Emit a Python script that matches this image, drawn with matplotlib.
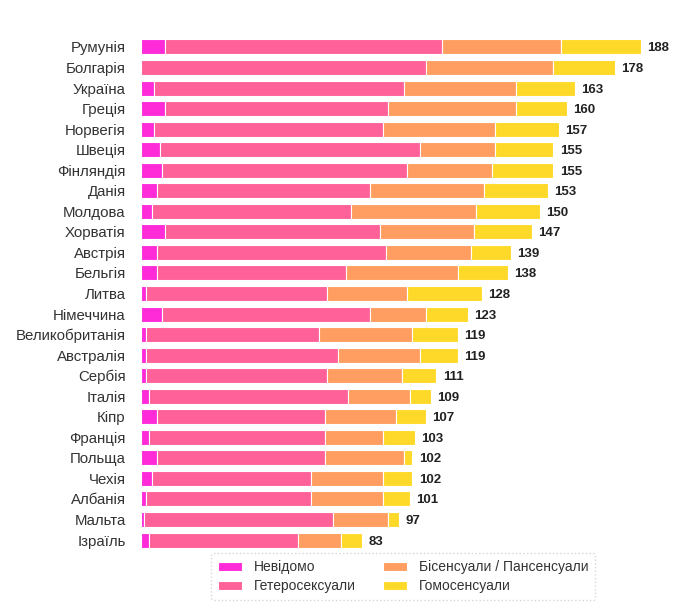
import numpy as np
import matplotlib
matplotlib.use('Agg')
import matplotlib.pyplot as plt

## ------------------------------ DATA ------------------------------ ##

krainy = ['Румунія', 'Болгарія', 'Україна', 'Греція', 'Норвегія', 'Швеція',
          'Фінляндія', 'Данія', 'Молдова', 'Хорватія', 'Австрія', 'Бельгія',
          'Литва', 'Німеччина', 'Великобританія', 'Австралія', 'Сербія',
          'Італія', 'Кіпр', 'Франція', 'Польща', 'Чехія', 'Албанія',
          'Мальта', 'Ізраїль']

nevidomo = [9, 0, 5, 9, 5, 7, 8, 6, 4, 9, 6, 6, 2, 8, 2, 2, 2, 3, 6, 3, 6, 4, 2, 1, 3]
hetero   = [104, 107, 94, 84, 86, 98, 92, 80, 75, 81, 86, 71, 68, 78, 65, 72, 68, 75, 63, 66, 63, 60, 62, 71, 56]
bi_pan   = [45, 48, 42, 48, 42, 28, 32, 43, 47, 35, 32, 42, 30, 21, 35, 31, 28, 23, 27, 22, 30, 27, 27, 21, 16]
homo     = [30, 23, 22, 19, 24, 22, 23, 24, 24, 22, 15, 19, 28, 16, 17, 14, 13, 8, 11, 12, 3, 11, 10, 4, 8]

nazvy = ['Невідомо', 'Гетеросексуали', 'Бісенсуали / Пансенсуали', 'Гомосенсуали']
kolory = ['#FF2BD9', '#FF6198', '#FF9E60', '#FFD929']

## ------------------------------ PLOT ------------------------------ ##

plt.rcParams['font.family'] = ['Liberation Sans', 'DejaVu Sans']

fig = plt.figure(figsize=[6.8, 6.04], dpi=100)
ax = fig.add_axes([141/680., 0.0889, 519/680., 0.8503])

y = np.arange(len(krainy))
seriyi = [nevidomo, hetero, bi_pan, homo]
liv = np.zeros(len(krainy))
for vals, naz, kol in zip(seriyi, nazvy, kolory):
    vals = np.array(vals, dtype=float)
    ax.barh(y, vals, left=liv, height=0.73, color=kol, label=naz,
            edgecolor='white', linewidth=0.8)
    liv = liv + vals

for yi, tot in zip(y, liv):
    ax.text(tot + 2.4, yi, '%d' % tot, va='center_baseline', ha='left',
            fontsize=9.5, fontweight='bold', color='#222222')

ax.set_yticks(y)
ax.set_yticklabels(krainy, fontsize=10.8, color='#333333')
for t in ax.get_yticklabels():
    t.set_verticalalignment('center_baseline')
ax.tick_params(axis='y', length=0, pad=11)
ax.set_xticks([])
ax.set_xlim(0, 195.1)
ax.set_ylim(len(krainy) - 0.5, -0.5)
for s in ax.spines.values():
    s.set_visible(False)

leg = fig.legend(loc='center', bbox_to_anchor=(0.593, 0.045), ncol=2,
                 fontsize=10, frameon=True, handlelength=1.7, handleheight=0.6,
                 handletextpad=0.85, columnspacing=2.0, labelspacing=0.35,
                 borderpad=0.5)
leg.get_frame().set_edgecolor('#cccccc')
leg.get_frame().set_linestyle(':')
for t in leg.get_texts():
    t.set_color('#333333')

plt.savefig('out.png', dpi=100)
